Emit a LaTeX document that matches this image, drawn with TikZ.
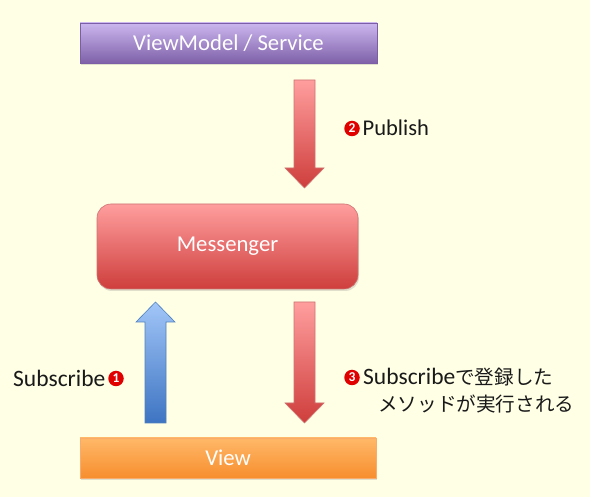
\documentclass[tikz,border=0pt]{standalone}
\usepackage{fontspec}
\setmainfont{Carlito}
\newfontfamily\cjk{Noto Sans CJK JP}
\usetikzlibrary{shadows}
\definecolor{bg}{HTML}{FFFFE6}
\definecolor{purpT}{HTML}{CBB6EE}
\definecolor{purpB}{HTML}{7F61A9}
\definecolor{purpE}{HTML}{7B5EA6}
\definecolor{redT}{HTML}{FF9E9E}
\definecolor{redB}{HTML}{CE3E3C}
\definecolor{redE}{HTML}{C0504D}
\definecolor{oraT}{HTML}{FFB868}
\definecolor{oraB}{HTML}{F78E2E}
\definecolor{oraE}{HTML}{F79646}
\definecolor{bluT}{HTML}{A2C6F8}
\definecolor{bluB}{HTML}{3D74C2}
\definecolor{bluE}{HTML}{4F81BD}
\definecolor{numred}{HTML}{E00000}
\begin{document}
\begin{tikzpicture}[x=1pt,y=-1pt,
  boxbase/.style={draw, line width=0.6pt, text=white, inner sep=0pt,
    font=\fontsize{22.7}{27}\selectfont,
    drop shadow={opacity=0.25, shadow xshift=1pt, shadow yshift=-2pt}},
  purplebox/.style={boxbase, draw=purpE, top color=purpT, bottom color=purpB},
  redbox/.style={boxbase, draw=redE!80, top color=redT, bottom color=redB},
  orangebox/.style={boxbase, draw=oraE!80, top color=oraT, bottom color=oraB},
  redarrow/.style={draw=redE!80, line width=0.6pt, top color=redT, bottom color=redB},
  bluearrow/.style={draw=bluE, line width=0.6pt, top color=bluT, bottom color=bluB},
  numc/.style={circle, fill=numred, text=white, inner sep=0pt, minimum size=15.5pt,
    font=\bfseries\fontsize{13.5}{13.5}\selectfont},
  lab/.style={inner sep=0pt, text=black!90, font=\fontsize{22.5}{27}\selectfont},
  sublab/.style={lab, font=\fontsize{23.5}{27}\selectfont},
  jp/.style={font=\cjk\fontsize{19.6}{24}\selectfont}
]
\fill[bg] (0,0) rectangle (590,497);
\useasboundingbox (0,0) rectangle (590,497);

% boxes
\node[purplebox, minimum width=297pt, minimum height=40pt] (vm) at (228.5,43) {ViewModel / Service};
\node[redbox, rounded corners=14pt, minimum width=261pt, minimum height=85pt] (msg) at (227.5,246.5) {Messenger};
\node[orangebox, minimum width=296pt, minimum height=40pt] (view) at (228,458) {View};

% block arrows
\path[redarrow] (294,80) -- (315,80) -- (315,168) -- (324,168) -- (304.5,188)
  -- (285,168) -- (294,168) -- cycle;
\path[redarrow] (294,302) -- (315,302) -- (315,403) -- (324,403) -- (304.5,423)
  -- (285,403) -- (294,403) -- cycle;
\path[bluearrow] (145,423) -- (166,423) -- (166,322) -- (175,322) -- (155.5,302)
  -- (136,322) -- (145,322) -- cycle;

% labels
\node[numc] (n2) at (352,128.5) {2};
\node[lab, anchor=west] (pub) at (362.5,128) {Publish};

\node[sublab, anchor=west] (sub) at (13,378) {Subscribe};
\node[numc] (n1) at (116,378.5) {1};

\node[numc] (n3) at (352,377.5) {3};
\node[sublab, anchor=west] (l3a) at (363,377) {Subscribe{\cjk\fontsize{19.6}{24}\selectfont で登録した}};
\node[lab, jp, anchor=west] (l3b) at (378,404) {メソッドが実行される};
\end{tikzpicture}
\end{document}
